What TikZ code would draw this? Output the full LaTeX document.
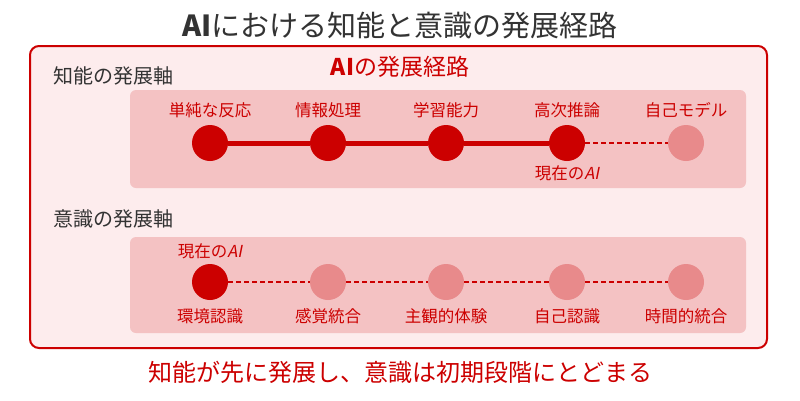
\documentclass[tikz,border=0pt]{standalone}
\usepackage{fontspec}
\setmainfont{Noto Sans CJK JP}
\newfontfamily\slantfont[FakeSlant=0.2]{Noto Sans CJK JP}
\definecolor{darkred}{HTML}{CC0000}
\definecolor{lightnode}{HTML}{E88A8B}
\definecolor{bandfill}{HTML}{F4C2C3}
\definecolor{outerfill}{HTML}{FDECED}
\definecolor{textgray}{HTML}{333333}
\tikzset{
  stage/.style={circle,minimum size=36pt,inner sep=0pt},
  donenode/.style={stage,fill=darkred},
  futurenode/.style={stage,fill=lightnode},
  lbl/.style={text=darkred,font=\fontsize{16.5pt}{18pt}\selectfont,inner sep=0pt},
  axislbl/.style={text=textgray,font=\fontsize{20pt}{22pt}\selectfont,inner sep=0pt,anchor=west},
  solidlink/.style={draw=darkred,line width=5pt},
  dashlink/.style={draw=darkred,line width=2.5pt,dash pattern=on 5pt off 3pt},
  band/.style={fill=bandfill,rounded corners=6pt}
}
\begin{document}
\begin{tikzpicture}[x=1pt,y=-1pt]
\useasboundingbox (0,0) rectangle (800,400);
\fill[white] (0,0) rectangle (800,400);
\node[text=textgray,font=\fontsize{29pt}{32pt}\selectfont,inner sep=0pt] (title) at (400,26) {\textbf{AI}における知能と意識の発展経路};
\draw[darkred,line width=2pt,fill=outerfill,rounded corners=9pt] (30,46) rectangle (767,348);
\node[text=darkred,font=\fontsize{23pt}{26pt}\selectfont,inner sep=0pt] (sub) at (400,67) {\textbf{AI}の発展経路};
\node[axislbl] (ax1) at (53,76) {知能の発展軸};
\node[axislbl] (ax2) at (53,219) {意識の発展軸};
\fill[band] (130,90) rectangle (746,188);
\fill[band] (130,237) rectangle (746,333);
% row 1
\node[donenode] (a1) at (210,143) {};
\node[donenode] (a2) at (328,143) {};
\node[donenode] (a3) at (446,143) {};
\node[donenode] (a4) at (567,143) {};
\node[futurenode] (a5) at (686,143) {};
\draw[solidlink] (a1) -- (a2);
\draw[solidlink] (a2) -- (a3);
\draw[solidlink] (a3) -- (a4);
\draw[dashlink] (a4) -- (a5);
\node[lbl] (la1) at (210,110) {単純な反応};
\node[lbl] (la2) at (328,110) {情報処理};
\node[lbl] (la3) at (446,110) {学習能力};
\node[lbl] (la4) at (567,110) {高次推論};
\node[lbl] (la5) at (686,110) {自己モデル};
\node[lbl] (cur1) at (567,173) {現在の{\slantfont AI}};
% row 2
\node[donenode] (b1) at (210,282) {};
\node[futurenode] (b2) at (328,282) {};
\node[futurenode] (b3) at (446,282) {};
\node[futurenode] (b4) at (567,282) {};
\node[futurenode] (b5) at (686,282) {};
\draw[dashlink] (b1) -- (b2);
\draw[dashlink] (b2) -- (b3);
\draw[dashlink] (b3) -- (b4);
\draw[dashlink] (b4) -- (b5);
\node[lbl] (cur2) at (210,251) {現在の{\slantfont AI}};
\node[lbl] (lb1) at (210,316) {環境認識};
\node[lbl] (lb2) at (328,316) {感覚統合};
\node[lbl] (lb3) at (446,316) {主観的体験};
\node[lbl] (lb4) at (567,316) {自己認識};
\node[lbl] (lb5) at (686,316) {時間的統合};
\node[text=darkred,font=\fontsize{24pt}{27pt}\selectfont,inner sep=0pt] (concl) at (400,372) {知能が先に発展し、意識は初期段階にとどまる};
\end{tikzpicture}
\end{document}
